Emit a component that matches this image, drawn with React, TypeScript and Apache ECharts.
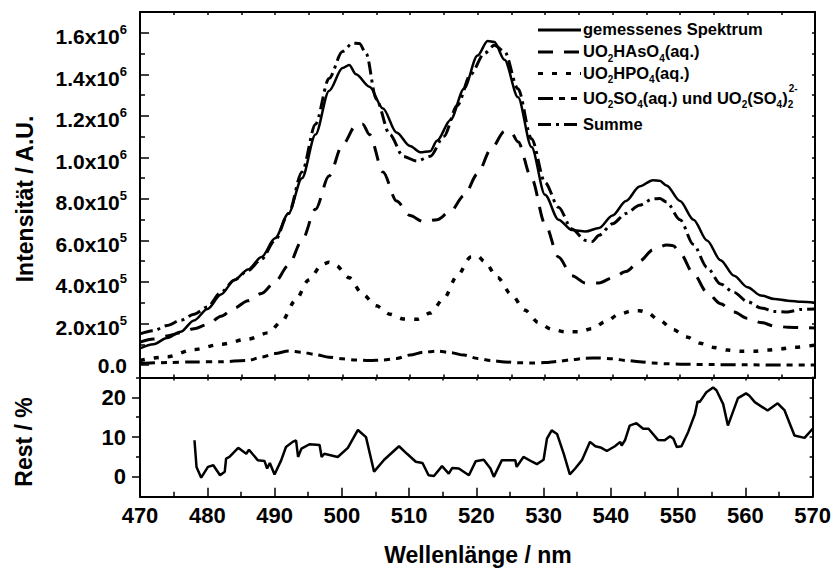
import React, { useEffect, useRef } from "react";
import * as echarts from "echarts";

const FONT = "'Liberation Sans', Arial, Helvetica, sans-serif";

// ---------- data ----------
const wlMeasured = [470,472,474,476,478,480,482,484,486,488,490,492,494,496,498,500,501,502,504,506,508,510,511.5,513,514,516,518,520,521.5,522.5,524,526,528,530,532,534,536,538,540,542,544,546,547,548,550,552,554,556,558,560,562,564,566,568,570];
const intMeasured = [80e3,100e3,130e3,160e3,215e3,270e3,340e3,410e3,460e3,520e3,610e3,730e3,900e3,1110e3,1320e3,1430e3,1445e3,1400e3,1340e3,1235e3,1120e3,1055e3,1025e3,1030e3,1080e3,1180e3,1330e3,1490e3,1560e3,1555e3,1470e3,1290e3,1050e3,820e3,700e3,650e3,643e3,660e3,720e3,790e3,860e3,890e3,888e3,865e3,790e3,700e3,600e3,505e3,430e3,375e3,335e3,318e3,310e3,305e3,300e3];

const wlAs = [470,472,474,476,478,480,482,484,486,488,490,492,494,496,498,500,502,503,504,506,508,510,512,514,516,518,520,522,524,525,526,528,530,532,534,536,538,540,542,544,546,548,549,550,552,554,556,558,560,562,564,566,568,570];
const intAs = [110e3,125e3,140e3,155e3,175e3,195e3,235e3,275e3,310e3,345e3,400e3,480e3,600e3,750e3,910e3,1060e3,1155e3,1160e3,1110e3,930e3,790e3,720e3,690e3,700e3,740e3,816e3,920e3,1040e3,1125e3,1120e3,1075e3,900e3,680e3,520e3,430e3,395e3,395e3,420e3,450e3,500e3,555e3,578e3,575e3,540e3,440e3,350e3,295e3,255e3,225e3,205e3,188e3,182e3,180e3,178e3];

const wlP = [470,474,478,482,486,489,491,493,495,497,498,499,501,503,505,507,509,511,513,515,517,519,520,521,523,525,527,529,531,533,535,537,539,541,543,544,545,547,549,551,553,555,557,559,561,563,565,567,570];
const intP = [22e3,40e3,75e3,100e3,125e3,155e3,210e3,310e3,410e3,485e3,495e3,480e3,420e3,340e3,285e3,245e3,222e3,220e3,250e3,320e3,430e3,520e3,525e3,500e3,420e3,340e3,265e3,205e3,172e3,160e3,160e3,175e3,210e3,245e3,262e3,262e3,255e3,215e3,170e3,135e3,105e3,85e3,72e3,66e3,67e3,72e3,78e3,86e3,96e3];

const wlS = [470,474,478,482,486,488,490,492,494,496,498,500,502,504,506,508,510,512,514,516,518,520,522,524,526,528,530,532,534,536,538,540,542,544,546,548,550,555,560,565,570];
const intS = [8e3,12e3,15e3,16e3,22e3,38e3,55e3,68e3,62e3,50e3,38e3,30e3,24e3,22e3,24e3,32e3,48e3,62e3,67e3,60e3,48e3,32e3,22e3,15e3,11e3,10e3,12e3,18e3,26e3,33e3,34e3,30e3,22e3,16e3,10e3,6e3,4e3,2e3,1e3,0,0];

const wlSum = [470,472,474,476,478,480,482,484,486,488,490,492,494,496,498,500,501.5,502.5,503.5,505,507,509,511,513,515,517,519,521,522.5,524,526,528,530,532,534,536,537,538,540,542,544,546,547,548,550,552,554,556,558,560,562,564,566,568,570];
const intSum = [150e3,165e3,190e3,215e3,245e3,280e3,350e3,410e3,455e3,510e3,600e3,730e3,930e3,1160e3,1380e3,1510e3,1550e3,1548e3,1500e3,1280e3,1110e3,1005e3,982e3,1005e3,1100e3,1250e3,1400e3,1500e3,1540e3,1510e3,1330e3,1090e3,880e3,760e3,655e3,600e3,595e3,625e3,680e3,730e3,770e3,800e3,802e3,785e3,700e3,580e3,470e3,390e3,350e3,305e3,275e3,258e3,256e3,268e3,270e3];

const wlRes = [478.1,478.4,479.1,480.1,480.9,481.9,482.6,482.8,483.3,484.6,
  485.8,486.2,487.5,488.5,488.9,489.3,490.0,491.0,491.7,492.7,
  493.2,493.5,494.0,495.2,496.7,497.0,497.4,499.4,500.9,502.4,
  503.6,504.8,506.3,508.5,509.7,511.0,512.0,512.9,513.7,514.9,
  515.9,516.4,517.4,518.9,519.9,521.1,522.1,522.6,523.8,525.8,
  526.0,527.0,528.3,529.0,530.0,530.5,531.2,532.0,533.0,533.9,
  534.7,535.7,536.9,537.7,538.6,539.4,540.6,541.4,541.6,542.1,
  542.8,543.8,544.8,545.6,547.0,548.0,548.8,549.3,549.8,550.5,
  551.5,552.5,552.9,553.2,554.2,555.2,555.7,556.7,557.4,558.9,
  560.1,560.6,561.4,563.3,564.8,565.8,567.3,568.8,570.0];
const resid = [9.2,2.5,-0.2,2.5,2.9,0.4,1.3,4.6,5.0,7.3,
  5.8,6.8,4.2,4.0,2.1,3.5,0.6,4.2,7.5,8.8,
  9.2,5.0,7.1,8.2,8.0,5.0,5.8,5.0,7.3,11.8,
  10.0,1.3,4.3,7.7,5.8,3.8,3.5,0.4,0.2,2.7,
  0.8,2.2,2.1,0.4,3.9,4.3,2.1,0.0,4.2,4.2,
  2.5,5.0,3.8,3.2,4.3,9.6,11.7,10.8,5.8,0.6,
  2.1,4.2,8.8,7.7,7.3,6.5,7.7,8.8,7.9,9.2,
  12.9,13.5,12.1,12.1,9.3,9.2,10.2,9.6,7.5,7.7,
  11.3,15.8,19.0,18.8,21.3,22.5,21.8,18.3,12.9,19.8,
  21.0,20.4,18.8,16.7,18.5,16.8,10.4,9.8,12.1];

const intensityTicks = [0, 2e5, 4e5, 6e5, 8e5, 1e6, 1.2e6, 1.4e6, 1.6e6];
const intensityMinorTicks = [1e5, 3e5, 5e5, 7e5, 9e5, 1.1e6, 1.3e6, 1.5e6];
const intensityRightTicks = [0,1e5,2e5,3e5,4e5,5e5,6e5,7e5,8e5,9e5,1e6,1.1e6,1.2e6,1.3e6,1.4e6,1.5e6,1.6e6];
const restTicks = [0, 10, 20];
const restMinorTicks = [5, 15, 25];

// legend label tokens: [text, isSubscript]
const legendTokens: [string, boolean][][] = [
  [["gemessenes Spektrum", false]],
  [["UO", false], ["2", true], ["HAsO", false], ["4", true], ["(aq.)", false]],
  [["UO", false], ["2", true], ["HPO", false], ["4", true], ["(aq.)", false]],
  [["UO", false], ["2", true], ["SO", false], ["4", true], ["(aq.) und UO", false], ["2", true], ["(SO", false], ["4", true], [")", false], ["2", true]],
  [["Summe", false]],
];
const legendCharge = "2-";

const zip = (xs: number[], ys: number[]) => xs.map((x, i) => [x, ys[i]]);

const DASH_AS = [15, 11];
const DASH_P = [5, 9];
const DASH_S = [15, 6, 6, 6, 6, 6];
const DASH_SUM = [13, 5, 3, 5];

const LEG_FS = 16.5;
const LEG_SUB = 10;

function fmtIntensity(v: number) {
  if (Math.abs(v) < 1) return "{z|0.0}";
  const e = Math.floor(Math.log10(v) + 1e-9);
  const m = v / Math.pow(10, e);
  return `{m|${m.toFixed(1)}x10}{e|${e}}`;
}

export default function App() {
  const ref = useRef<HTMLDivElement>(null);
  useEffect(() => {
    const chart = echarts.init(ref.current!, null, { renderer: "svg" });
    const black = "#000";
    const labelBase = { color: black, fontFamily: FONT, fontWeight: "bold" as const };
    const axisLine = { show: true, onZero: false, lineStyle: { color: black, width: 2 } };
    const G0 = { left: 140, right: 19, top: 12, height: 365.5 };
    const G1 = { left: 140, right: 19, top: 377.5, height: 119.2 };
    const yTop = { min: -6e4, max: 1.7e6 };
    const yBot = { min: -5, max: 25 };

    const ctx = document.createElement("canvas").getContext("2d")!;
    const measure = (t: string, size: number) => {
      ctx.font = `bold ${size}px ${FONT}`;
      return ctx.measureText(t).width;
    };

    const legendX = 583;
    const legendY = [30, 52, 73.5, 98.5, 124.5];
    const legendDash: (number[] | null)[] = [null, DASH_AS, DASH_P, DASH_S, DASH_SUM];
    const legendGraphics: any[] = [];
    legendTokens.forEach((tokens, i) => {
      legendGraphics.push({
        type: "line",
        shape: { x1: 538, y1: legendY[i], x2: 581, y2: legendY[i] },
        style: { stroke: black, lineWidth: 3, lineDash: legendDash[i] || undefined },
      });
      const text = tokens.map(([t, sub]) => `{${sub ? "s" : "b"}|${t}}`).join("");
      legendGraphics.push({
        type: "text",
        x: legendX,
        y: legendY[i] - 1,
        style: {
          text,
          align: "left",
          verticalAlign: "middle",
          rich: {
            b: { ...labelBase, fontSize: LEG_FS, lineHeight: 24 },
            s: { ...labelBase, fontSize: LEG_SUB, lineHeight: 24, verticalAlign: "bottom" },
          },
        },
      });
    });
    // superscript charge stacked over the final subscript of row 4
    const row4 = legendTokens[3];
    let wBefore = 0;
    row4.slice(0, row4.length - 1).forEach(([t, sub]) => { wBefore += measure(t, sub ? LEG_SUB : LEG_FS); });
    legendGraphics.push({
      type: "text",
      x: legendX + wBefore + 1,
      y: legendY[3] - 10,
      style: { text: legendCharge, ...labelBase, fontSize: LEG_SUB, align: "left", verticalAlign: "middle", fill: black },
    });

    const option: any = {
      animation: false,
      backgroundColor: "#fff",
      grid: [G0, G1],
      xAxis: [
        { gridIndex: 0, type: "value", position: "bottom", min: 470, max: 570, interval: 5, axisLine, axisTick: { inside: true, length: 3, lineStyle: { color: black, width: 1.5 } }, axisLabel: { show: false }, splitLine: { show: false } },
        { gridIndex: 0, type: "value", position: "top", min: 470, max: 570, interval: 5, axisLine, axisTick: { inside: true, length: 3, lineStyle: { color: black, width: 1.5 } }, axisLabel: { show: false }, splitLine: { show: false } },
        { gridIndex: 1, type: "value", position: "bottom", min: 470, max: 570, interval: 10, axisLine, axisTick: { inside: true, length: 9, lineStyle: { color: black, width: 1.5 } }, minorTick: { show: true, splitNumber: 2, length: 5, lineStyle: { color: black, width: 1.5 } }, axisLabel: { ...labelBase, fontSize: 22, margin: 8 }, splitLine: { show: false } },
        { gridIndex: 1, type: "value", position: "top", min: 470, max: 570, interval: 5, axisLine, axisTick: { inside: true, length: 3, lineStyle: { color: black, width: 1.5 } }, axisLabel: { show: false }, splitLine: { show: false } },
      ],
      yAxis: [
        { gridIndex: 0, type: "value", position: "left", ...yTop, axisLine, splitLine: { show: false },
          axisTick: { inside: true, length: 9, customValues: intensityTicks, lineStyle: { color: black, width: 1.5 } },
          axisLabel: { customValues: intensityTicks, margin: 13, formatter: fmtIntensity,
            rich: {
              z: { ...labelBase, fontSize: 21 },
              m: { ...labelBase, fontSize: 21, padding: [8, 0, 0, 0] },
              e: { ...labelBase, fontSize: 13, verticalAlign: "top", padding: [5, 0, 0, 0] },
            } } },
        { gridIndex: 0, type: "value", position: "left", ...yTop, axisLine: { show: false }, splitLine: { show: false },
          axisTick: { inside: true, length: 5, customValues: intensityMinorTicks, lineStyle: { color: black, width: 1.5 } }, axisLabel: { show: false } },
        { gridIndex: 0, type: "value", position: "right", ...yTop, axisLine, splitLine: { show: false },
          axisTick: { inside: true, length: 3, customValues: intensityRightTicks, lineStyle: { color: black, width: 1.5 } }, axisLabel: { show: false } },
        { gridIndex: 1, type: "value", position: "left", ...yBot, axisLine, splitLine: { show: false },
          axisTick: { inside: false, length: 8, customValues: restTicks, lineStyle: { color: black, width: 1.5 } },
          axisLabel: { customValues: restTicks, margin: 14, ...labelBase, fontSize: 22 } },
        { gridIndex: 1, type: "value", position: "left", ...yBot, axisLine: { show: false }, splitLine: { show: false },
          axisTick: { inside: false, length: 4, customValues: restMinorTicks, lineStyle: { color: black, width: 1.5 } }, axisLabel: { show: false } },
        { gridIndex: 1, type: "value", position: "right", ...yBot, interval: 5, axisLine, splitLine: { show: false },
          axisTick: { inside: true, length: 3, lineStyle: { color: black, width: 1.5 } }, axisLabel: { show: false } },
      ],
      series: [
        { name: "UO2SO4", type: "line", xAxisIndex: 0, yAxisIndex: 0, data: zip(wlS, intS), symbol: "none", smooth: 0.3, smoothMonotone: "x", lineStyle: { color: black, width: 3, type: DASH_S } },
        { name: "UO2HPO4", type: "line", xAxisIndex: 0, yAxisIndex: 0, data: zip(wlP, intP), symbol: "none", smooth: 0.3, smoothMonotone: "x", lineStyle: { color: black, width: 3.5, type: DASH_P } },
        { name: "UO2HAsO4", type: "line", xAxisIndex: 0, yAxisIndex: 0, data: zip(wlAs, intAs), symbol: "none", smooth: 0.3, smoothMonotone: "x", lineStyle: { color: black, width: 3, type: DASH_AS } },
        { name: "Summe", type: "line", xAxisIndex: 0, yAxisIndex: 0, data: zip(wlSum, intSum), symbol: "none", smooth: 0.3, smoothMonotone: "x", lineStyle: { color: black, width: 3, type: DASH_SUM } },
        { name: "gemessenes Spektrum", type: "line", xAxisIndex: 0, yAxisIndex: 0, data: zip(wlMeasured, intMeasured), symbol: "none", smooth: 0.3, smoothMonotone: "x", lineStyle: { color: black, width: 2.5 } },
        { name: "Rest", type: "line", xAxisIndex: 2, yAxisIndex: 3, data: zip(wlRes, resid), symbol: "none", lineStyle: { color: black, width: 2.5 } },
      ],
      graphic: [
        ...legendGraphics,
        { type: "text", x: 478, y: 555, style: { text: "Wellenlänge / nm", ...labelBase, fill: black, fontSize: 23, align: "center", verticalAlign: "middle" } },
        { type: "text", x: 25, y: 199, rotation: Math.PI / 2, style: { text: "Intensität / A.U.", ...labelBase, fill: black, fontSize: 23, align: "center", verticalAlign: "middle" } },
        { type: "text", x: 24, y: 442, rotation: Math.PI / 2, style: { text: "Rest / %", ...labelBase, fill: black, fontSize: 23, align: "center", verticalAlign: "middle" } },
      ],
    };
    chart.setOption(option);
    return () => chart.dispose();
  }, []);
  return <div ref={ref} style={{ position: "fixed", left: 0, top: 0, width: 834, height: 570 }} />;
}
